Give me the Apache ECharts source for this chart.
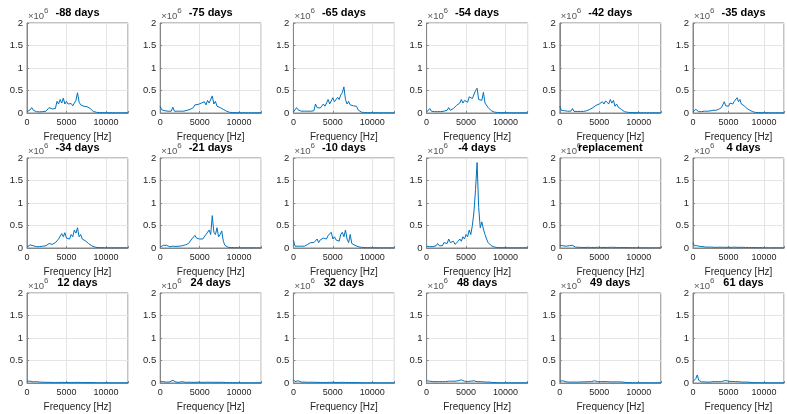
<!DOCTYPE html>
<html>
<head>
<meta charset="utf-8">
<script src="https://cdn.jsdelivr.net/npm/echarts@6/dist/echarts.min.js"></script>
<style>
html, body { margin: 0; padding: 0; background: #fff; }
#chart { width: 787px; height: 414px; }
</style>
</head>
<body>
<div id="chart"></div>
<script>
// panel titles (row by row)
const titles = [
  '-88 days', '-75 days', '-65 days', '-54 days', '-42 days', '-35 days',
  '-34 days', '-21 days', '-10 days', '-4 days', 'replacement', '4 days',
  '12 days', '24 days', '32 days', '48 days', '49 days', '61 days'
]

// spectrum sampled every 200 Hz from 0 to 12800 Hz, values in 10^6
const FREQ_STEP = 200
const xTicks = [0, 5000, 10000]
const yTicks = [0, 0.5, 1, 1.5, 2]

const m88 = [0.03,0.05,0.07,0.12,0.06,0.04,0.03,0.03,0.025,0.03,
  0.03,0.035,0.04,0.06,0.12,0.15,0.09,0.08,0.1,0.26,
  0.2,0.3,0.22,0.33,0.2,0.26,0.2,0.17,0.21,0.16,
  0.22,0.28,0.45,0.24,0.18,0.2,0.15,0.17,0.14,0.15,
  0.1,0.06,0.035,0.02,0.015,0.01,0.01,0.008,0.008,0.007,
  0.006,0.006,0.006,0.005,0.005,0.005,0.005,0.005,0.005,0.005,0.005,0.005,0.005,0.005,0.005]
const m75 = [0.15,0.07,0.08,0.05,0.06,0.04,0.05,0.04,0.13,0.04,
  0.035,0.04,0.05,0.04,0.05,0.04,0.05,0.06,0.07,0.08,
  0.1,0.12,0.18,0.15,0.19,0.16,0.22,0.2,0.25,0.18,
  0.28,0.22,0.2,0.38,0.2,0.26,0.15,0.13,0.12,0.1,
  0.08,0.06,0.04,0.025,0.015,0.01,0.01,0.008,0.008,0.007,
  0.006,0.006,0.006,0.005,0.005,0.005,0.005,0.005,0.005,0.005,0.005,0.005,0.005,0.005,0.005]
const m65 = [0.02,0.04,0.12,0.07,0.05,0.04,0.05,0.04,0.05,0.04,
  0.045,0.04,0.05,0.05,0.2,0.12,0.1,0.11,0.1,0.2,
  0.15,0.18,0.3,0.2,0.22,0.34,0.25,0.3,0.35,0.3,
  0.4,0.45,0.58,0.3,0.2,0.26,0.18,0.2,0.16,0.2,
  0.15,0.07,0.03,0.02,0.012,0.01,0.01,0.008,0.008,0.007,
  0.006,0.006,0.006,0.005,0.005,0.005,0.005,0.005,0.005,0.005,0.005,0.005,0.005,0.005,0.005]
const m54 = [0.02,0.03,0.1,0.04,0.03,0.03,0.025,0.03,0.03,0.03,
  0.035,0.04,0.05,0.06,0.12,0.06,0.07,0.1,0.12,0.17,
  0.2,0.22,0.3,0.22,0.28,0.3,0.24,0.36,0.4,0.32,
  0.35,0.5,0.55,0.3,0.32,0.28,0.46,0.22,0.18,0.12,
  0.08,0.05,0.03,0.02,0.015,0.01,0.01,0.008,0.008,0.007,
  0.006,0.006,0.006,0.005,0.005,0.005,0.005,0.005,0.005,0.005,0.005,0.005,0.005,0.005,0.005]
const m42 = [0.15,0.06,0.09,0.05,0.04,0.04,0.035,0.04,0.1,0.035,
  0.03,0.035,0.03,0.035,0.04,0.035,0.04,0.05,0.06,0.08,
  0.1,0.12,0.15,0.17,0.15,0.2,0.18,0.25,0.2,0.27,
  0.3,0.2,0.3,0.22,0.28,0.15,0.2,0.13,0.12,0.08,
  0.05,0.03,0.02,0.015,0.01,0.01,0.008,0.008,0.007,0.007,
  0.006,0.006,0.006,0.005,0.005,0.005,0.005,0.005,0.005,0.005,0.005,0.005,0.005,0.005,0.005]
const m35 = [0.02,0.04,0.08,0.04,0.03,0.035,0.03,0.035,0.04,0.035,
  0.04,0.04,0.045,0.05,0.06,0.05,0.06,0.07,0.08,0.1,
  0.12,0.15,0.25,0.16,0.2,0.15,0.22,0.25,0.2,0.26,
  0.22,0.34,0.25,0.3,0.2,0.24,0.16,0.18,0.1,0.08,
  0.06,0.04,0.03,0.02,0.012,0.01,0.01,0.008,0.008,0.007,
  0.006,0.006,0.006,0.005,0.005,0.005,0.005,0.005,0.005,0.005,0.005,0.005,0.005,0.005,0.005]
const m34 = [0.02,0.05,0.07,0.11,0.05,0.035,0.03,0.03,0.03,0.035,
  0.04,0.04,0.05,0.06,0.1,0.07,0.08,0.1,0.12,0.16,
  0.2,0.22,0.32,0.25,0.34,0.22,0.26,0.2,0.3,0.25,
  0.4,0.33,0.45,0.25,0.3,0.2,0.22,0.16,0.14,0.1,
  0.07,0.05,0.03,0.02,0.012,0.01,0.01,0.008,0.008,0.007,
  0.006,0.006,0.006,0.005,0.005,0.005,0.005,0.005,0.005,0.005,0.005,0.005,0.005,0.005,0.005]
const m21 = [0.02,0.04,0.06,0.1,0.06,0.035,0.03,0.03,0.04,0.03,
  0.035,0.04,0.04,0.045,0.05,0.06,0.07,0.08,0.1,0.14,
  0.2,0.24,0.28,0.22,0.25,0.2,0.18,0.2,0.24,0.3,
  0.28,0.4,0.3,0.72,0.35,0.3,0.45,0.25,0.3,0.38,
  0.15,0.06,0.03,0.015,0.01,0.01,0.008,0.008,0.007,0.007,
  0.006,0.006,0.006,0.005,0.005,0.005,0.005,0.005,0.005,0.005,0.005,0.005,0.005,0.005,0.005]
const m10 = [0.18,0.04,0.03,0.04,0.035,0.04,0.035,0.04,0.06,0.08,
  0.06,0.12,0.1,0.12,0.15,0.2,0.12,0.18,0.15,0.22,
  0.25,0.2,0.28,0.3,0.35,0.2,0.25,0.18,0.22,0.15,
  0.3,0.35,0.25,0.4,0.2,0.12,0.3,0.1,0.08,0.06,
  0.05,0.03,0.02,0.015,0.01,0.01,0.008,0.008,0.007,0.007,
  0.006,0.006,0.006,0.005,0.005,0.005,0.005,0.005,0.005,0.005,0.005,0.005,0.005,0.005,0.005]
const m4 = [0.04,0.03,0.03,0.04,0.03,0.04,0.05,0.1,0.05,0.06,
  0.05,0.12,0.15,0.1,0.2,0.12,0.1,0.15,0.08,0.12,
  0.15,0.2,0.15,0.25,0.2,0.3,0.25,0.4,0.3,0.5,
  0.8,1.3,1.9,0.9,0.45,0.58,0.42,0.3,0.2,0.12,
  0.08,0.05,0.03,0.02,0.012,0.01,0.01,0.008,0.008,0.007,
  0.006,0.006,0.006,0.005,0.005,0.005,0.005,0.005,0.005,0.005,0.005,0.005,0.005,0.005,0.005]
const rep = [0.06,0.03,0.05,0.03,0.04,0.03,0.05,0.04,0.06,0.02,
  0.02,0.015,0.015,0.015,0.012,0.015,0.012,0.012,0.015,0.012,
  0.012,0.015,0.012,0.012,0.015,0.012,0.012,0.015,0.012,0.015,
  0.012,0.015,0.015,0.012,0.015,0.02,0.012,0.012,0.01,0.012,
  0.01,0.01,0.01,0.008,0.008,0.008,0.008,0.008,0.007,0.007,
  0.006,0.006,0.006,0.005,0.005,0.005,0.005,0.005,0.005,0.005,0.005,0.005,0.005,0.005,0.005]
const d4 = [0.12,0.05,0.04,0.05,0.03,0.035,0.03,0.03,0.04,0.02,
  0.02,0.02,0.018,0.02,0.018,0.015,0.018,0.015,0.015,0.018,
  0.015,0.015,0.018,0.015,0.02,0.015,0.018,0.015,0.015,0.018,
  0.015,0.015,0.012,0.015,0.012,0.015,0.012,0.012,0.015,0.012,
  0.01,0.01,0.01,0.01,0.008,0.008,0.008,0.008,0.007,0.007,
  0.006,0.006,0.006,0.005,0.005,0.005,0.005,0.005,0.005,0.005,0.005,0.005,0.005,0.005,0.005]
const d12 = [0.04,0.03,0.04,0.02,0.025,0.02,0.03,0.05,0.02,0.02,
  0.018,0.015,0.015,0.018,0.015,0.015,0.012,0.015,0.012,0.015,
  0.012,0.012,0.015,0.012,0.012,0.015,0.012,0.012,0.012,0.015,
  0.012,0.012,0.015,0.012,0.012,0.012,0.01,0.012,0.01,0.01,
  0.01,0.008,0.008,0.008,0.008,0.007,0.007,0.007,0.006,0.006,
  0.006,0.006,0.006,0.005,0.005,0.005,0.005,0.005,0.005,0.005,0.005,0.005,0.005,0.005,0.005]
const d24 = [0.03,0.02,0.03,0.02,0.02,0.02,0.025,0.02,0.06,0.02,
  0.02,0.02,0.015,0.02,0.03,0.02,0.015,0.015,0.018,0.015,
  0.015,0.018,0.015,0.015,0.018,0.015,0.015,0.018,0.015,0.015,
  0.018,0.015,0.015,0.018,0.015,0.015,0.015,0.012,0.015,0.012,
  0.015,0.01,0.01,0.008,0.008,0.008,0.007,0.007,0.006,0.006,
  0.006,0.006,0.006,0.005,0.005,0.005,0.005,0.005,0.005,0.005,0.005,0.005,0.005,0.005,0.005]
const d32 = [0.08,0.03,0.02,0.05,0.02,0.02,0.018,0.02,0.018,0.015,
  0.015,0.018,0.015,0.015,0.018,0.015,0.015,0.012,0.015,0.012,
  0.015,0.012,0.012,0.015,0.012,0.015,0.012,0.012,0.015,0.012,
  0.012,0.015,0.012,0.012,0.015,0.012,0.012,0.01,0.012,0.01,
  0.01,0.008,0.008,0.008,0.007,0.007,0.007,0.006,0.006,0.006,
  0.006,0.006,0.006,0.005,0.005,0.005,0.005,0.005,0.005,0.005,0.005,0.005,0.005,0.005,0.005]
const d48 = [0.05,0.03,0.04,0.03,0.03,0.025,0.03,0.025,0.03,0.025,
  0.03,0.025,0.03,0.03,0.04,0.06,0.04,0.035,0.04,0.05,
  0.05,0.08,0.07,0.05,0.04,0.04,0.035,0.03,0.04,0.035,
  0.05,0.03,0.03,0.035,0.03,0.04,0.025,0.02,0.02,0.04,
  0.02,0.012,0.01,0.008,0.008,0.008,0.007,0.007,0.006,0.006,
  0.006,0.006,0.006,0.005,0.005,0.005,0.005,0.005,0.005,0.005,0.005,0.005,0.005,0.005,0.005]
const d49 = [0.04,0.03,0.05,0.03,0.025,0.025,0.02,0.025,0.02,0.025,
  0.02,0.025,0.02,0.025,0.025,0.02,0.025,0.025,0.03,0.025,
  0.03,0.04,0.05,0.04,0.03,0.035,0.03,0.025,0.03,0.025,
  0.03,0.025,0.025,0.03,0.025,0.02,0.025,0.02,0.025,0.02,
  0.02,0.012,0.01,0.008,0.008,0.008,0.007,0.007,0.006,0.006,
  0.006,0.006,0.006,0.005,0.005,0.005,0.005,0.005,0.005,0.005,0.005,0.005,0.005,0.005,0.005]
const d61 = [0.03,0.05,0.1,0.18,0.06,0.03,0.025,0.02,0.025,0.02,
  0.02,0.025,0.02,0.025,0.03,0.04,0.03,0.025,0.03,0.025,
  0.03,0.035,0.05,0.04,0.05,0.04,0.035,0.03,0.035,0.03,
  0.03,0.025,0.03,0.025,0.02,0.025,0.02,0.02,0.02,0.015,
  0.015,0.01,0.01,0.008,0.008,0.008,0.007,0.007,0.006,0.006,
  0.006,0.006,0.006,0.005,0.005,0.005,0.005,0.005,0.005,0.005,0.005,0.005,0.005,0.005,0.005]

const spectra = [m88, m75, m65, m54, m42, m35, m34, m21, m10, m4, rep, d4, d12, d24, d32, d48, d49, d61]

const chart = echarts.init(document.getElementById('chart'))

const FONT = '"Liberation Sans", Arial, Helvetica, sans-serif'
const AXIS_COLOR = '#868686'
const TEXT_COLOR = '#262626'
const PANEL_W = 101
const PANEL_H = 90

const grids = []
const xAxes = []
const yAxes = []
const series = []
const graphics = []

spectra.forEach((vals, i) => {
  const row = Math.floor(i / 6)
  const col = i % 6
  const left = 27 + col * 133.2
  const top = 23 + row * 135

  grids.push({
    left: left,
    top: top,
    width: PANEL_W,
    height: PANEL_H,
    show: true,
    borderColor: AXIS_COLOR,
    borderWidth: 1,
    backgroundColor: '#fff',
  })
  xAxes.push({
    gridIndex: i,
    type: 'value',
    min: 0,
    max: 12800,
    interval: 5000,
    name: 'Frequency [Hz]',
    nameLocation: 'middle',
    nameGap: 19,
    nameTextStyle: { fontSize: 10, color: TEXT_COLOR, fontFamily: FONT },
    axisLine: { show: true, lineStyle: { color: AXIS_COLOR, width: 1 } },
    axisTick: { show: true, inside: true, length: 2, lineStyle: { color: AXIS_COLOR } },
    axisLabel: {
      fontSize: 9,
      color: TEXT_COLOR,
      fontFamily: FONT,
      margin: 5,
      formatter: v => (xTicks.indexOf(v) >= 0 ? String(v) : ''),
    },
    splitLine: { show: true, lineStyle: { color: '#e4e4e4', width: 1 } },
  })
  yAxes.push({
    gridIndex: i,
    type: 'value',
    min: 0,
    max: 2,
    interval: 0.5,
    axisLine: { show: true, lineStyle: { color: AXIS_COLOR, width: 1 } },
    axisTick: { show: true, inside: true, length: 2, lineStyle: { color: AXIS_COLOR } },
    axisLabel: {
      fontSize: 9.5,
      color: TEXT_COLOR,
      fontFamily: FONT,
      margin: 4,
      formatter: v => (yTicks.indexOf(v) >= 0 ? String(v) : ''),
    },
    splitLine: { show: true, lineStyle: { color: '#e4e4e4', width: 1 } },
  })
  series.push({
    type: 'line',
    xAxisIndex: i,
    yAxisIndex: i,
    showSymbol: false,
    silent: true,
    lineStyle: { color: '#0072BD', width: 1 },
    data: vals.map((v, k) => [k * FREQ_STEP, v]),
  })
  // exponent label
  graphics.push({
    type: 'text',
    left: left + 1,
    top: top - 12,
    style: { text: '×10', fontSize: 9.5, fill: '#555', fontFamily: FONT },
  })
  graphics.push({
    type: 'text',
    left: left + 17,
    top: top - 16,
    style: { text: '6', fontSize: 8, fill: '#555', fontFamily: FONT },
  })
  // panel title
  graphics.push({
    type: 'text',
    x: left + PANEL_W / 2,
    y: top - 10,
    style: {
      text: titles[i],
      fontSize: 11,
      fontWeight: 'bold',
      fill: '#000',
      fontFamily: FONT,
      textAlign: 'center',
      textVerticalAlign: 'middle',
    },
  })
})

chart.setOption({
  animation: false,
  backgroundColor: '#fff',
  textStyle: { fontFamily: FONT },
  grid: grids,
  xAxis: xAxes,
  yAxis: yAxes,
  series: series,
  graphic: graphics,
})
</script>
</body>
</html>
